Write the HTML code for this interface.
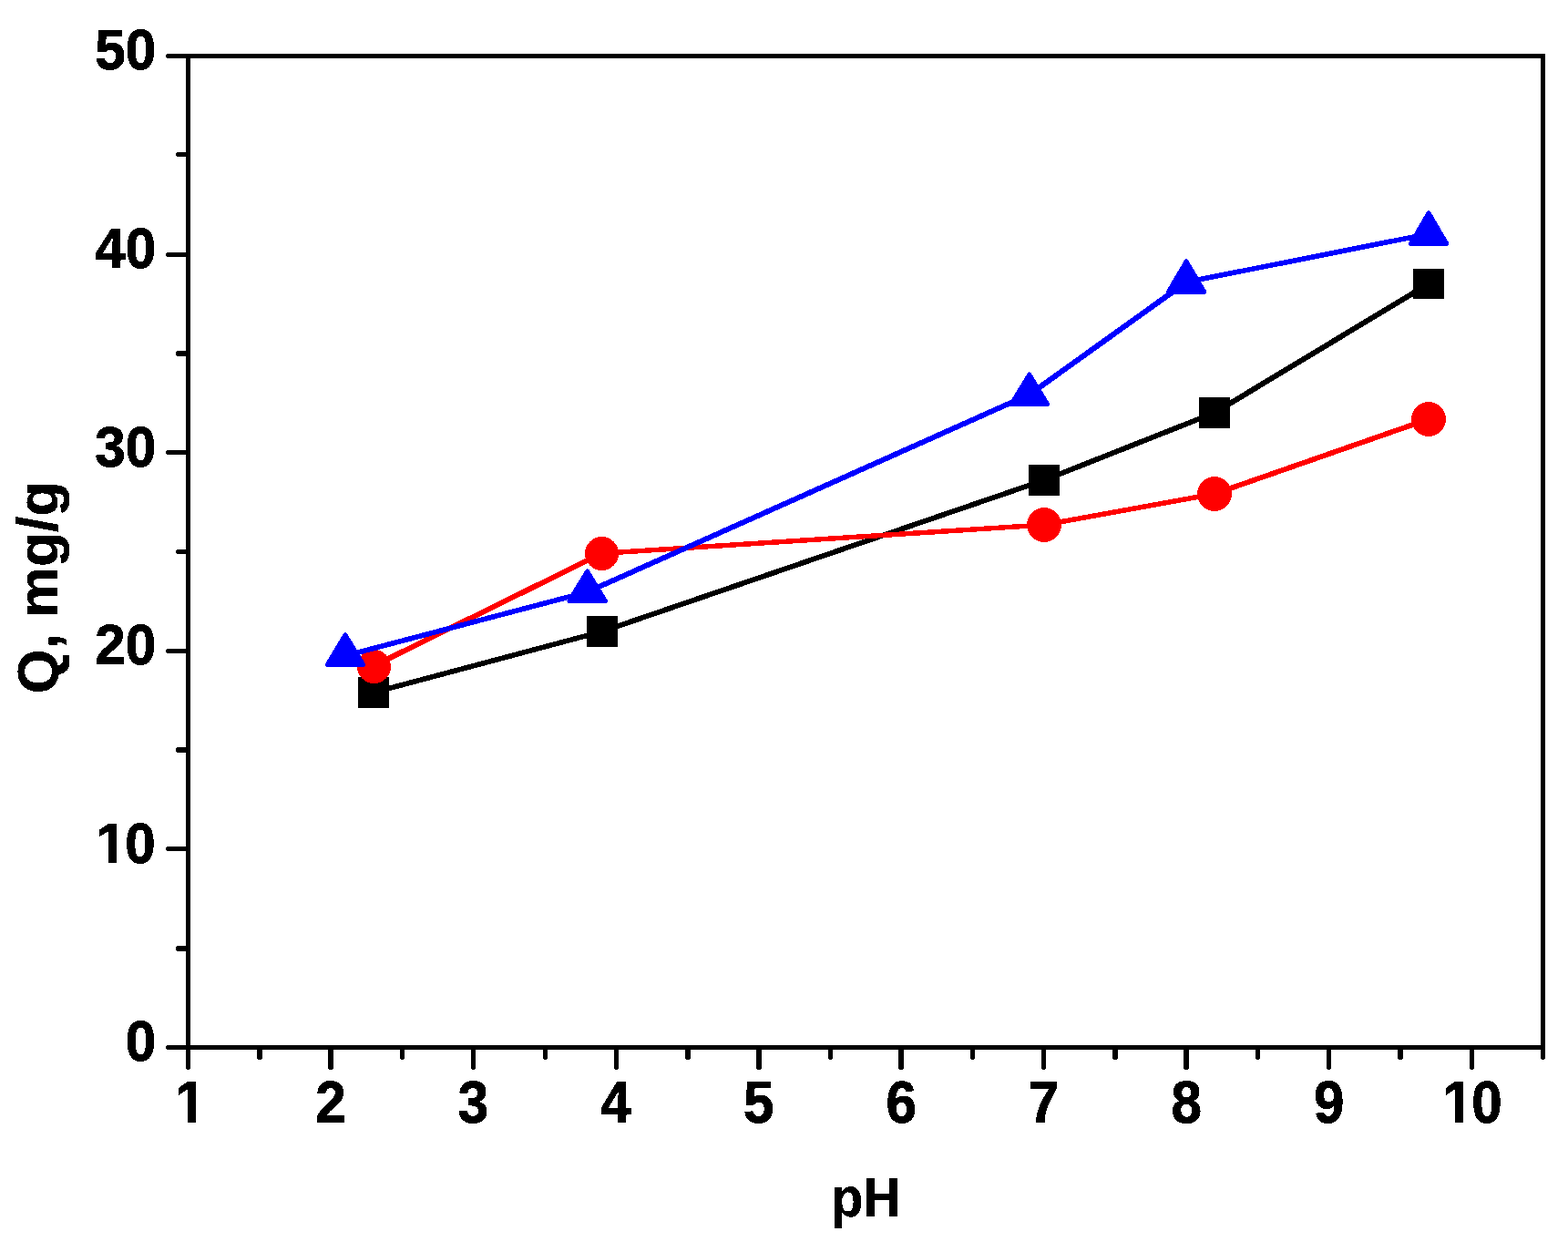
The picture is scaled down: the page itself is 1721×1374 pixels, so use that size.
<!DOCTYPE html>
<html lang="en">
<head>
<meta charset="utf-8">
<title>Q, mg/g vs pH</title>
<style>
html,body{margin:0;padding:0;background:#fff;}
body{width:1721px;height:1374px;overflow:hidden;}
svg{display:block;}
text{font-family:"Liberation Sans",sans-serif;font-weight:bold;fill:#000;}
</style>
</head>
<body>
<svg width="1721" height="1374" viewBox="0 0 1721 1374" shape-rendering="crispEdges" role="img" aria-label="Q, mg/g versus pH">
<defs>
<filter id="hard" x="-10%" y="-10%" width="120%" height="120%" color-interpolation-filters="sRGB">
<feComponentTransfer>
<feFuncA type="discrete" tableValues="0 1"/>
</feComponentTransfer>
</filter>
</defs>
<rect x="0" y="0" width="1721" height="1374" fill="#ffffff"/>
<!-- series 1 -->
<g stroke="#000000" fill="none" stroke-linecap="butt">
<line x1="410.00" y1="760.00" x2="661.00" y2="693.00" stroke-width="5.71"/>
<line x1="661.00" y1="693.00" x2="1146.00" y2="527.00" stroke-width="5.79"/>
<line x1="1146.00" y1="527.00" x2="1333.00" y2="453.00" stroke-width="5.84"/>
<line x1="1333.00" y1="453.00" x2="1568.00" y2="311.50" stroke-width="6.02"/>
</g>
<g fill="#000000">
<rect x="393.00" y="743.00" width="34" height="34.00"/>
<rect x="644.00" y="676.00" width="34" height="34.00"/>
<rect x="1129.00" y="510.00" width="34" height="34.00"/>
<rect x="1316.00" y="436.00" width="34" height="34.00"/>
<rect x="1551.00" y="295.00" width="34" height="33.00"/>
</g>
<!-- series 2 -->
<g stroke="#ff0000" fill="none" stroke-linecap="butt">
<line x1="410.50" y1="730.60" x2="660.50" y2="607.30" stroke-width="5.93"/>
<line x1="660.50" y1="607.30" x2="1146.00" y2="576.00" stroke-width="5.48"/>
<line x1="1146.00" y1="576.00" x2="1333.00" y2="542.00" stroke-width="5.61"/>
<line x1="1333.00" y1="542.00" x2="1568.00" y2="460.00" stroke-width="5.80"/>
</g>
<g fill="#ff0000">
<circle cx="410.50" cy="731.50" r="18.50"/>
<circle cx="660.50" cy="607.50" r="18.50"/>
<circle cx="1146.00" cy="576.00" r="19.00"/>
<circle cx="1333.00" cy="542.00" r="19.00"/>
<circle cx="1568.00" cy="460.00" r="19.00"/>
</g>
<!-- series 3 -->
<g stroke="#0000ff" fill="none" stroke-linecap="butt">
<line x1="379.00" y1="719.70" x2="644.60" y2="649.70" stroke-width="5.71"/>
<line x1="644.60" y1="649.70" x2="1130.30" y2="432.70" stroke-width="5.89"/>
<line x1="1130.30" y1="432.70" x2="1302.10" y2="309.60" stroke-width="6.10"/>
<line x1="1302.10" y1="309.60" x2="1568.10" y2="256.70" stroke-width="5.63"/>
</g>
<g fill="#0000ff" stroke="#0000ff" stroke-width="5" stroke-linejoin="round">
<polygon points="379.00,696.90 398.70,729.50 359.30,729.50"/>
<polygon points="644.60,627.00 664.30,659.50 624.90,659.50"/>
<polygon points="1129.80,411.00 1149.50,443.50 1110.10,443.50"/>
<polygon points="1302.10,287.00 1321.80,320.40 1282.40,320.40"/>
<polygon points="1568.10,233.90 1587.80,267.50 1548.40,267.50"/>
</g>
<!-- axes -->
<g stroke="#000" stroke-width="5" fill="none" stroke-linecap="round">
<rect x="206.5" y="61.5" width="1487" height="1088" stroke-linejoin="miter"/>
<line x1="184.50" y1="1149.50" x2="206.50" y2="1149.50" stroke-width="5"/>
<line x1="196.00" y1="1041.00" x2="206.50" y2="1041.00" stroke-width="6"/>
<line x1="184.50" y1="931.50" x2="206.50" y2="931.50" stroke-width="5"/>
<line x1="196.00" y1="823.00" x2="206.50" y2="823.00" stroke-width="6"/>
<line x1="184.50" y1="714.50" x2="206.50" y2="714.50" stroke-width="5"/>
<line x1="195.50" y1="605.50" x2="206.50" y2="605.50" stroke-width="5"/>
<line x1="184.50" y1="496.50" x2="206.50" y2="496.50" stroke-width="5"/>
<line x1="196.00" y1="388.00" x2="206.50" y2="388.00" stroke-width="6"/>
<line x1="184.50" y1="279.50" x2="206.50" y2="279.50" stroke-width="5"/>
<line x1="195.50" y1="169.50" x2="206.50" y2="169.50" stroke-width="5"/>
<line x1="184.50" y1="61.50" x2="206.50" y2="61.50" stroke-width="5"/>
<line x1="206.50" y1="1149.50" x2="206.50" y2="1171.50" stroke-width="5"/>
<line x1="285.00" y1="1149.50" x2="285.00" y2="1160.00" stroke-width="6"/>
<line x1="363.00" y1="1149.50" x2="363.00" y2="1171.00" stroke-width="6"/>
<line x1="441.50" y1="1149.50" x2="441.50" y2="1160.50" stroke-width="5"/>
<line x1="519.50" y1="1149.50" x2="519.50" y2="1171.50" stroke-width="5"/>
<line x1="598.50" y1="1149.50" x2="598.50" y2="1160.50" stroke-width="5"/>
<line x1="676.50" y1="1149.50" x2="676.50" y2="1171.50" stroke-width="5"/>
<line x1="755.00" y1="1149.50" x2="755.00" y2="1160.00" stroke-width="6"/>
<line x1="833.00" y1="1149.50" x2="833.00" y2="1171.00" stroke-width="6"/>
<line x1="911.50" y1="1149.50" x2="911.50" y2="1160.50" stroke-width="5"/>
<line x1="989.00" y1="1149.50" x2="989.00" y2="1171.00" stroke-width="6"/>
<line x1="1067.50" y1="1149.50" x2="1067.50" y2="1160.50" stroke-width="5"/>
<line x1="1145.50" y1="1149.50" x2="1145.50" y2="1171.50" stroke-width="5"/>
<line x1="1224.00" y1="1149.50" x2="1224.00" y2="1160.00" stroke-width="6"/>
<line x1="1302.00" y1="1149.50" x2="1302.00" y2="1171.00" stroke-width="6"/>
<line x1="1380.50" y1="1149.50" x2="1380.50" y2="1160.50" stroke-width="5"/>
<line x1="1458.50" y1="1149.50" x2="1458.50" y2="1171.50" stroke-width="5"/>
<line x1="1537.00" y1="1149.50" x2="1537.00" y2="1160.00" stroke-width="6"/>
<line x1="1615.50" y1="1149.50" x2="1615.50" y2="1171.50" stroke-width="5"/>
<line x1="1693.50" y1="1149.50" x2="1693.50" y2="1160.50" stroke-width="5"/>
</g>
<g>
<text transform="translate(171.10,1164.30) scale(0.97,1.03)" font-size="62" text-anchor="end" stroke="#000" stroke-width="1" stroke-linejoin="miter" filter="url(#hard)">0</text>
<text transform="translate(171.10,946.70) scale(0.97,1.03)" font-size="62" text-anchor="end" stroke="#000" stroke-width="1" stroke-linejoin="miter" filter="url(#hard)" dx="-0.5 -1.55">10</text>
<text transform="translate(171.10,729.10) scale(0.97,1.03)" font-size="62" text-anchor="end" stroke="#000" stroke-width="1" stroke-linejoin="miter" filter="url(#hard)">20</text>
<text transform="translate(171.10,511.50) scale(0.97,1.03)" font-size="62" text-anchor="end" stroke="#000" stroke-width="1" stroke-linejoin="miter" filter="url(#hard)">30</text>
<text transform="translate(171.10,293.90) scale(0.97,1.03)" font-size="62" text-anchor="end" stroke="#000" stroke-width="1" stroke-linejoin="miter" filter="url(#hard)">40</text>
<text transform="translate(171.10,76.30) scale(0.97,1.03)" font-size="62" text-anchor="end" stroke="#000" stroke-width="1" stroke-linejoin="miter" filter="url(#hard)">50</text>
</g>
<g>
<text transform="translate(209.00,1231.60) scale(0.97,1.045)" font-size="62" text-anchor="middle" stroke="#000" stroke-width="1" stroke-linejoin="miter" filter="url(#hard)">1</text>
<text transform="translate(363.03,1231.60) scale(0.97,1.045)" font-size="62" text-anchor="middle" stroke="#000" stroke-width="1" stroke-linejoin="miter" filter="url(#hard)">2</text>
<text transform="translate(519.55,1231.60) scale(0.97,1.045)" font-size="62" text-anchor="middle" stroke="#000" stroke-width="1" stroke-linejoin="miter" filter="url(#hard)">3</text>
<text transform="translate(676.08,1231.60) scale(0.97,1.045)" font-size="62" text-anchor="middle" stroke="#000" stroke-width="1" stroke-linejoin="miter" filter="url(#hard)">4</text>
<text transform="translate(832.61,1231.60) scale(0.97,1.045)" font-size="62" text-anchor="middle" stroke="#000" stroke-width="1" stroke-linejoin="miter" filter="url(#hard)">5</text>
<text transform="translate(989.13,1231.60) scale(0.97,1.045)" font-size="62" text-anchor="middle" stroke="#000" stroke-width="1" stroke-linejoin="miter" filter="url(#hard)">6</text>
<text transform="translate(1145.66,1231.60) scale(0.97,1.045)" font-size="62" text-anchor="middle" stroke="#000" stroke-width="1" stroke-linejoin="miter" filter="url(#hard)">7</text>
<text transform="translate(1302.18,1231.60) scale(0.97,1.045)" font-size="62" text-anchor="middle" stroke="#000" stroke-width="1" stroke-linejoin="miter" filter="url(#hard)">8</text>
<text transform="translate(1458.71,1231.60) scale(0.97,1.045)" font-size="62" text-anchor="middle" stroke="#000" stroke-width="1" stroke-linejoin="miter" filter="url(#hard)">9</text>
<text transform="translate(1615.24,1231.60) scale(0.97,1.045)" font-size="62" text-anchor="middle" stroke="#000" stroke-width="1" stroke-linejoin="miter" filter="url(#hard)" dx="0.78 -1.55">10</text>
</g>
<g fill="#ffffff" stroke="none">
<rect x="194" y="1224" width="12" height="10"/>
<rect x="215" y="1224" width="11" height="10"/>
<rect x="1585" y="1224" width="12" height="10"/>
<rect x="1606" y="1224" width="11" height="10"/>
<rect x="107" y="939" width="12" height="10"/>
<rect x="128" y="939" width="11" height="10"/>
</g>
<text transform="translate(950.56,1334.80) scale(1,1.06)" font-size="57.5" text-anchor="middle" stroke="#000" stroke-width="0.3" stroke-linejoin="miter" filter="url(#hard)">pH</text>
<text transform="translate(63.30,644.70) rotate(-90) scale(1,1.02)" font-size="62.6" text-anchor="middle" stroke="#000" stroke-width="0.5" stroke-linejoin="miter" filter="url(#hard)">Q, mg/g</text>
</svg>
</body>
</html>
